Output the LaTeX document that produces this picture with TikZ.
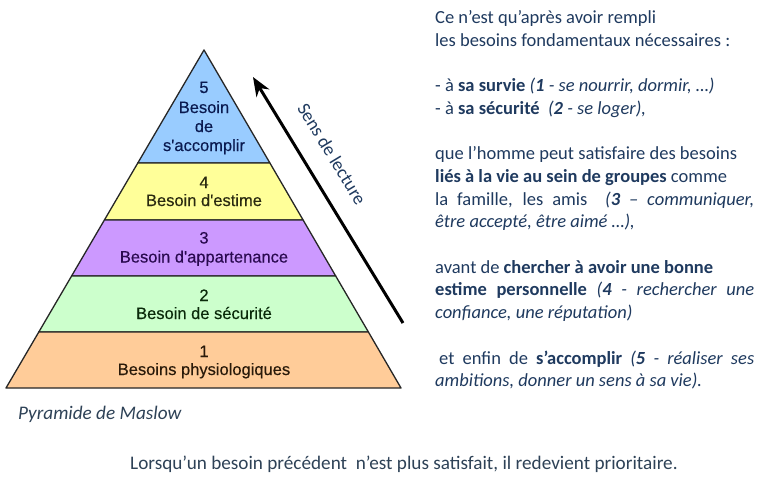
\documentclass[tikz,border=0pt]{standalone}
\usepackage{fontspec}
\setmainfont{Carlito}
\newfontfamily\arialf[FakeBold=0.35]{Liberation Sans}
\usetikzlibrary{arrows.meta}
\definecolor{txt}{HTML}{1F3A5F}
\definecolor{gtxt}{HTML}{2E4257}
\definecolor{cfive}{HTML}{99CCFF}
\definecolor{cfour}{HTML}{FFFF99}
\definecolor{cthree}{HTML}{CC99FF}
\definecolor{ctwo}{HTML}{CCFFCC}
\definecolor{cone}{HTML}{FFCC99}
\definecolor{tfive}{HTML}{0A1A50}
\definecolor{tfour}{HTML}{2A2A10}
\definecolor{tthree}{HTML}{2A0A50}
\definecolor{ttwo}{HTML}{0A2A0A}
\definecolor{tone}{HTML}{2A1A0A}
\begin{document}
\begin{tikzpicture}[x=1pt,y=-1pt,
  tier/.style={draw=black!85, line width=1.3pt, line join=round},
  plab/.style={anchor=base, inner sep=0pt, font=\arialf\fontsize{16.5}{19}\selectfont},
  rtext/.style={anchor=base west, inner sep=0pt, font=\fontsize{18.5}{22.7}\selectfont, text=txt},
  btext/.style={anchor=base west, inner sep=0pt, font=\fontsize{19.2}{22.7}\selectfont, text=gtxt},
  readarrow/.style={line width=3pt, -{Stealth[length=19pt,width=15pt,inset=6pt]}}]
\useasboundingbox[fill=white] (0,0) rectangle (768,479);
% pyramid tiers
\path[tier, fill=cfive] (204,50) -- (269.9,163) -- (137.8,163) -- cycle;
\path[tier, fill=cfour] (137.8,163) -- (269.9,163) -- (303.1,220) -- (104.4,220) -- cycle;
\path[tier, fill=cthree] (104.4,220) -- (303.1,220) -- (335.7,276) -- (71.6,276) -- cycle;
\path[tier, fill=ctwo] (71.6,276) -- (335.7,276) -- (368.4,332) -- (38.8,332) -- cycle;
\path[tier, fill=cone] (38.8,332) -- (368.4,332) -- (401,388) -- (6,388) -- cycle;
% tier labels
\node[plab, text=tfive] (l5a) at (204,93) {5};
\node[plab, text=tfive] (l5b) at (204,113) {Besoin};
\node[plab, text=tfive] (l5c) at (204,132) {de};
\node[plab, text=tfive] (l5d) at (204,151) {s'accomplir};
\node[plab, text=tfour] (l4a) at (204,188) {4};
\node[plab, text=tfour] (l4b) at (204,206) {Besoin d'estime};
\node[plab, text=tthree] (l3a) at (204,243.5) {3};
\node[plab, text=tthree] (l3b) at (204,262.5) {Besoin d'appartenance};
\node[plab, text=ttwo] (l2a) at (204,301) {2};
\node[plab, text=ttwo] (l2b) at (204,319) {Besoin de sécurité};
\node[plab, text=tone] (l1a) at (204,357) {1};
\node[plab, text=tone] (l1b) at (204,375) {Besoins physiologiques};
% reading arrow
\coordinate (as) at (403,323);
\coordinate (ae) at (253,77);
\draw[readarrow] (as) -- (ae);
\node[text=txt, font=\fontsize{18.5}{22}\selectfont, rotate=-58.7, inner sep=0pt] (sens) at (332,154) {Sens de lecture};
% right text
\node[rtext] (r0) at (435,23.5) {Ce n’est qu’après avoir rempli};
\node[rtext] (r1) at (435,46.2) {les besoins fondamentaux nécessaires :};
\node[rtext] (r3) at (435,91.6) {- à \textbf{sa survie} \textit{(\textbf{1} - se nourrir, dormir, …)}};
\node[rtext] (r4) at (435,114.3) {- à \textbf{sa sécurité}\ \ \textit{(\textbf{2} - se loger),}};
\node[rtext] (r6) at (435,159.7) {que l’homme peut satisfaire des besoins};
\node[rtext] (r7) at (435,182.4) {\textbf{liés à la vie au sein de groupes} comme};
\node[rtext] (r8) at (435,205.1) {\makebox[319pt][s]{la famille, les amis\ \ \textit{(\textbf{3} – communiquer,}}};
\node[rtext] (r9) at (435,227.8) {\textit{être accepté, être aimé …),}};
\node[rtext] (r11) at (435,273.2) {avant de \textbf{chercher à avoir une bonne}};
\node[rtext] (r12) at (435,295.9) {\makebox[319pt][s]{\textbf{estime personnelle} \textit{(\textbf{4} - rechercher une}}};
\node[rtext] (r13) at (435,318.6) {\textit{confiance, une réputation)}};
\node[rtext] (r15) at (439,364.0) {\makebox[315pt][s]{et enfin de \textbf{s’accomplir} \textit{(\textbf{5} - réaliser ses}}};
\node[rtext] (r16) at (435,386.7) {\textit{ambitions, donner un sens à sa vie).}};
% bottom texts
\node[btext] (cap) at (18,419.5) {\textit{Pyramide de Maslow}};
\node[btext] (foot) at (130,469) {Lorsqu’un besoin précédent\ \ n’est plus satisfait, il redevient prioritaire.};
\end{tikzpicture}
\end{document}
